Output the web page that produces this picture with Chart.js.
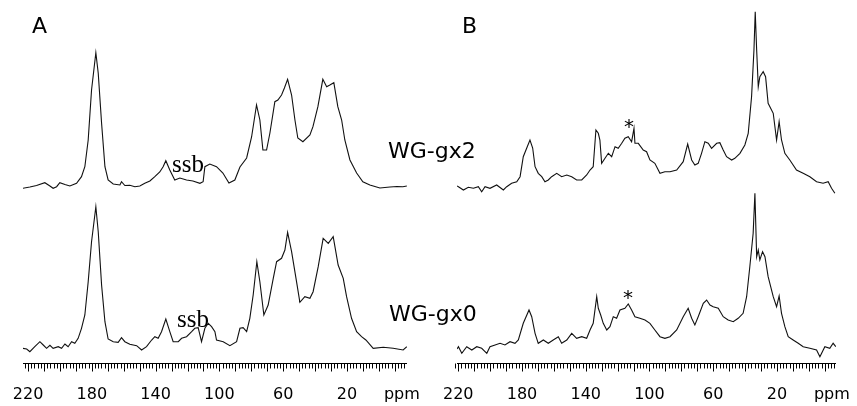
<!DOCTYPE html>
<html>
<head>
<meta charset="utf-8">
<script src="https://cdn.jsdelivr.net/npm/chart.js@4/dist/chart.umd.min.js"></script>
<style>
  html, body { margin: 0; padding: 0; background: #fff; overflow: hidden; }
  #wrap { position: relative; width: 857px; height: 406px; }
  canvas { position: absolute; left: 0; top: 0; }
</style>
</head>
<body>
<div id="wrap">
  <canvas id="chartA" width="857" height="406"></canvas>
  <canvas id="chartB" width="857" height="406"></canvas>
</div>
<script>
'use strict';

// Chemical shift axis labels (ppm); 'ppm' sits at the right end of the axis
const tickValues = [220, 180, 140, 100, 60, 20, -14.5];
const tickLabels = ['220', '180', '140', '100', '60', '20', 'ppm'];

// Panel A, WG-gx2 (upper trace)
const ppmAtop = [223.3, 218.9, 214.7, 209.5, 206.3, 204.3, 202.1, 200.1, 196.9, 193.8, 189.6, 186.5, 184.4, 182.3, 180.2, 177.5, 176.0, 173.9, 171.8, 169.8, 166.6, 162.4, 161.4, 159.3, 156.2, 153.0, 149.9, 146.8, 143.6, 140.5, 137.4, 135.3, 133.6, 131.1, 128.0, 124.8, 120.6, 116.6, 112.2, 110.2, 109.1, 106.0, 101.8, 97.8, 94.0, 90.3, 87.1, 82.9, 79.8, 76.7, 74.6, 72.7, 70.4, 68.3, 65.2, 63.3, 61.0, 59.2, 57.2, 54.7, 52.6, 50.8, 47.6, 43.2, 41.3, 38.2, 35.1, 32.7, 30.7, 28.2, 25.7, 23.3, 21.3, 18.1, 13.9, 10.0, 5.6, -0.7, -7.0, -11.4, -15.1, -17.6];
const intAtop = [-2.3, -1, 0.5, 3.3, 0, -2.3, -0.7, 3.3, 1.5, 0, 2.7, 9.3, 19.3, 46, 96, 133.3, 112.7, 62.7, 19.3, 6, 2, 1, 4.3, 0.5, 0.7, -0.7, 0, 2.7, 5, 9.3, 14, 19.3, 25.3, 16, 6, 8, 6, 5, 2.7, 4.3, 19.3, 22, 19.3, 13, 3, 6, 19, 28, 49, 81, 66, 36, 36, 53, 84.3, 86, 91, 98, 106.7, 91, 66, 48, 44.3, 51, 59.3, 79.3, 106.7, 99.3, 101, 103.3, 79.3, 66, 46, 26, 13, 4.3, 1, -2, -1, -0.5, -0.7, 0];

// Panel A, WG-gx0 (lower trace)
const ppmAbot = [223.3, 220.9, 218.9, 215.8, 212.6, 210.5, 208.4, 206.3, 204.3, 201.1, 199.0, 196.9, 194.9, 192.7, 190.7, 188.6, 186.5, 184.4, 182.3, 180.2, 177.5, 176.0, 173.9, 171.8, 169.8, 166.6, 163.5, 161.4, 159.3, 156.2, 151.9, 148.8, 145.7, 142.5, 140.5, 138.4, 136.3, 133.6, 131.1, 129.0, 125.8, 123.7, 120.6, 117.4, 115.4, 113.3, 111.2, 109.1, 107.0, 104.9, 102.8, 101.8, 97.6, 93.4, 89.2, 87.1, 85.1, 82.9, 80.9, 78.8, 76.5, 74.6, 72.1, 69.4, 66.2, 64.1, 61.0, 58.9, 57.2, 54.7, 51.6, 49.5, 46.4, 43.2, 41.2, 38.0, 34.9, 31.7, 28.6, 25.5, 22.3, 20.2, 17.1, 13.9, 10.8, 8.1, 3.5, -2.8, -9.0, -15.3, -17.6];
const intAbot = [-0.3, -1, -3.7, 1.3, 6.3, 3, -0.3, 2.7, -0.3, 1.3, -0.3, 4, 1.3, 6.3, 4.7, 9.7, 19.7, 33, 66.3, 106.3, 141.3, 116.3, 63, 26.3, 9, 6.3, 5.7, 10.3, 6.3, 3.7, 2.3, -2, 1.3, 8, 11.3, 9.7, 16.3, 29, 16.3, 6.3, 6.3, 9.7, 11.3, 16.3, 19.7, 20.3, 6.3, 19.7, 24.7, 21.3, 16.3, 8, 6.3, 2.3, 6.3, 19.7, 20.3, 16.3, 29.7, 53, 86.3, 66.3, 33, 43, 69.7, 86.3, 89.7, 98, 115.7, 96.3, 66.3, 45.7, 51.3, 49.7, 56.3, 81.3, 109.7, 104.7, 111.3, 83, 69.7, 51.3, 29.7, 16.3, 11.3, 8, -0.3, 0.7, -0.3, -2, 1.3];

// Panel B, WG-gx2 (upper trace)
const ppmBtop = [220.8, 219.9, 216.8, 213.7, 210.5, 207.4, 205.3, 203.2, 200.1, 195.9, 191.7, 189.6, 186.5, 183.3, 181.2, 179.2, 176.7, 175.0, 173.3, 171.8, 169.8, 167.6, 165.6, 163.5, 161.4, 158.2, 155.1, 151.9, 148.8, 145.7, 142.5, 139.4, 137.3, 135.3, 133.6, 132.1, 131.1, 130.0, 127.9, 125.8, 123.7, 121.6, 119.6, 117.4, 115.4, 113.3, 111.2, 109.7, 109.1, 107.0, 103.9, 101.8, 99.7, 96.6, 93.4, 90.3, 87.1, 82.9, 78.8, 76.0, 73.5, 71.5, 69.4, 67.3, 65.2, 63.1, 61.0, 57.8, 55.8, 53.7, 51.6, 48.4, 46.4, 43.2, 40.1, 38.0, 35.9, 34.4, 33.6, 32.7, 31.7, 30.7, 28.6, 27.1, 25.5, 22.3, 20.2, 18.6, 17.1, 15.0, 11.9, 7.7, 3.5, -0.7, -4.9, -9.0, -12.2, -14.3, -16.4];
const intBtop = [1, 0.3, -3, -0.3, -1.3, 0.3, -4.7, 0.3, -1.3, 2, -3, 0.3, 3.7, 5.3, 10.3, 30.3, 40.3, 47, 39, 20.3, 13.7, 10.3, 5.3, 7, 10.3, 13.7, 10.3, 12, 10.3, 7, 7, 12, 17, 20.3, 57, 53.7, 47, 23.7, 28.7, 33.7, 30.3, 40.3, 38.7, 43.7, 48.7, 50.3, 45.3, 58.7, 43.7, 43.7, 37, 35.3, 27, 23.7, 13.7, 15.3, 15.3, 17, 25.3, 43, 27, 22, 23.7, 33.7, 45.3, 43.7, 38.7, 43.7, 44.3, 37, 30.3, 27, 28.7, 33.7, 42, 53.7, 90.3, 137, 175.3, 137, 100.3, 110.3, 115.3, 110.3, 83.7, 73.7, 47, 65.3, 47, 33.7, 27, 17, 13.7, 10.3, 5.3, 3.7, 5.3, -1.3, -6.3];

// Panel B, WG-gx0 (lower trace)
const ppmBbot = [220.8, 219.9, 217.8, 214.7, 211.5, 208.4, 205.3, 202.1, 200.1, 196.9, 193.8, 190.7, 187.5, 184.4, 182.3, 179.2, 175.6, 173.9, 171.8, 169.8, 166.6, 163.5, 160.4, 157.2, 155.1, 151.9, 148.8, 145.7, 142.5, 139.4, 137.3, 135.3, 133.1, 132.1, 130.6, 129.0, 126.8, 124.8, 122.7, 120.6, 118.5, 115.4, 113.3, 111.2, 109.1, 106.0, 102.8, 99.7, 96.6, 93.4, 90.3, 87.1, 82.9, 78.8, 75.7, 73.5, 71.5, 69.4, 66.2, 64.1, 62.0, 60.0, 56.8, 53.7, 50.6, 47.4, 44.3, 41.2, 39.0, 37.0, 34.9, 33.8, 32.7, 31.7, 30.7, 29.0, 27.5, 25.5, 22.3, 20.2, 18.6, 17.1, 15.0, 12.9, 9.8, 6.6, 3.5, -0.7, -4.9, -7.0, -10.1, -13.2, -15.3, -17.0];
const intBbot = [-2, 0.3, -6.3, 0.3, -3, 0.3, -1.3, -6.3, 0.3, 2, 3.7, 2, 5.3, 3.7, 7, 23.7, 37, 30.3, 13.7, 3.7, 7, 3.7, 7, 10.3, 3.7, 7, 13.7, 8.7, 10.3, 8.7, 17, 23.7, 50.3, 38.7, 32, 23.7, 17, 20.3, 30.3, 28.7, 37, 38.7, 43, 37, 30.3, 28.7, 27, 23.7, 17, 10.3, 8.7, 10.3, 17, 30.3, 38.7, 28.7, 22, 30.3, 43.7, 47, 42, 40.3, 38.7, 30.3, 27, 25.3, 28.7, 33.7, 50.3, 80.3, 113.7, 153.7, 90.3, 97, 87, 95.3, 90.3, 70.3, 50.3, 40.3, 51, 33.7, 20.3, 10.3, 7, 3.7, 0.3, -1.3, -3, -9.7, 0.3, -1.3, 3.7, 0.3];

// Layout / style settings
const LINE_COLOR = '#111';
const FONT_SANS = '"DejaVu Sans", Verdana, sans-serif';
const FONT_SERIF = '"Liberation Serif", "Times New Roman", serif';
const Y_MAX = 363;          // vertical intensity range of each panel
const AXIS_HEIGHT = 43;     // room below the plot for ticks and labels

// Draws the NMR style ruler: a tick every 2 ppm, a longer one every 10 ppm
const ppmRulerPlugin = {
    id: 'ppmRuler',
    afterDraw(chart) {
        const { ctx, chartArea } = chart;
        const xScale = chart.scales.x;
        const y0 = Math.round(chartArea.bottom) + 0.5;
        ctx.save();
        ctx.strokeStyle = '#000';
        ctx.lineWidth = 1;
        ctx.beginPath();
        ctx.moveTo(chartArea.left, y0);
        ctx.lineTo(chartArea.right, y0);
        for (let v = 222; v >= -16; v -= 2) {
            const px = Math.round(xScale.getPixelForValue(v)) + 0.5;
            const len = v % 10 === 0 ? 8 : 5;
            ctx.moveTo(px, y0);
            ctx.lineTo(px, y0 + len);
        }
        ctx.stroke();
        ctx.restore();
    }
};

// Free text drawn on top of the chart (panel letters, sample names, marks)
const annotationPlugin = {
    id: 'notes',
    afterDraw(chart, args, opts) {
        const ctx = chart.ctx;
        ctx.save();
        ctx.fillStyle = '#000';
        ctx.textBaseline = 'alphabetic';
        (opts.items || []).forEach(item => {
            ctx.font = item.font;
            ctx.textAlign = item.align || 'left';
            ctx.fillText(item.text, item.x, item.y);
        });
        ctx.restore();
    }
};

function trace(ppm, values, offset) {
    return {
        data: ppm.map((p, i) => ({ x: p, y: values[i] + offset })),
        borderColor: LINE_COLOR,
        borderWidth: 1.1,
        pointRadius: 0,
        tension: 0,
        fill: false
    };
}

function buildPanel(canvasId, cfg) {
    return new Chart(document.getElementById(canvasId), {
        type: 'line',
        data: {
            datasets: [
                trace(cfg.ppmTop, cfg.top, cfg.offsetTop),
                trace(cfg.ppmBot, cfg.bot, cfg.offsetBot)
            ]
        },
        options: {
            responsive: false,
            animation: false,
            devicePixelRatio: 1,
            layout: { padding: cfg.padding },
            plugins: {
                legend: { display: false },
                tooltip: { enabled: false },
                notes: { items: cfg.notes }
            },
            scales: {
                x: {
                    type: 'linear',
                    reverse: true,
                    min: cfg.xMin,
                    max: cfg.xMax,
                    grid: { display: false, drawTicks: false, tickLength: 0 },
                    border: { display: false },
                    afterBuildTicks: scale => {
                        scale.ticks = tickValues.map(v => ({ value: v }));
                    },
                    afterFit: scale => {
                        // fixed axis band, and no extra room for the edge labels
                        scale.height = AXIS_HEIGHT;
                        scale.paddingLeft = 0;
                        scale.paddingRight = 0;
                    },
                    ticks: {
                        autoSkip: false,
                        maxRotation: 0,
                        padding: 22,
                        color: '#000',
                        font: { family: FONT_SANS, size: 16 },
                        callback: value => {
                            const i = tickValues.indexOf(value);
                            return i >= 0 ? tickLabels[i] : '';
                        }
                    }
                },
                y: {
                    display: false,
                    min: 0,
                    max: Y_MAX
                }
            }
        },
        plugins: [ppmRulerPlugin, annotationPlugin]
    });
}

document.addEventListener('DOMContentLoaded', () => {
    buildPanel('chartA', {
        ppmTop: ppmAtop, top: intAtop, offsetTop: 177,
        ppmBot: ppmAbot, bot: intAbot, offsetBot: 15,
        xMin: -17.7, xMax: 223.2,
        padding: { left: 23, right: 450, top: 0, bottom: 0 },
        notes: [
            { text: 'A', x: 32, y: 33, font: '22px ' + FONT_SANS },
            { text: 'WG-gx2', x: 388, y: 158, font: '22px ' + FONT_SANS },
            { text: 'WG-gx0', x: 389, y: 321, font: '22px ' + FONT_SANS },
            { text: 'ssb', x: 172, y: 172, font: '25px ' + FONT_SERIF },
            { text: 'ssb', x: 177, y: 327, font: '25px ' + FONT_SERIF }
        ]
    });

    buildPanel('chartB', {
        ppmTop: ppmBtop, top: intBtop, offsetTop: 176,
        ppmBot: ppmBbot, bot: intBbot, offsetBot: 16,
        xMin: -17.1, xMax: 220.8,
        padding: { left: 457, right: 21, top: 0, bottom: 0 },
        notes: [
            { text: 'B', x: 462, y: 33, font: '22px ' + FONT_SANS },
            { text: '*', x: 629, y: 133, font: '20px ' + FONT_SANS, align: 'center' },
            { text: '*', x: 628, y: 304, font: '20px ' + FONT_SANS, align: 'center' }
        ]
    });
});
</script>
</body>
</html>
